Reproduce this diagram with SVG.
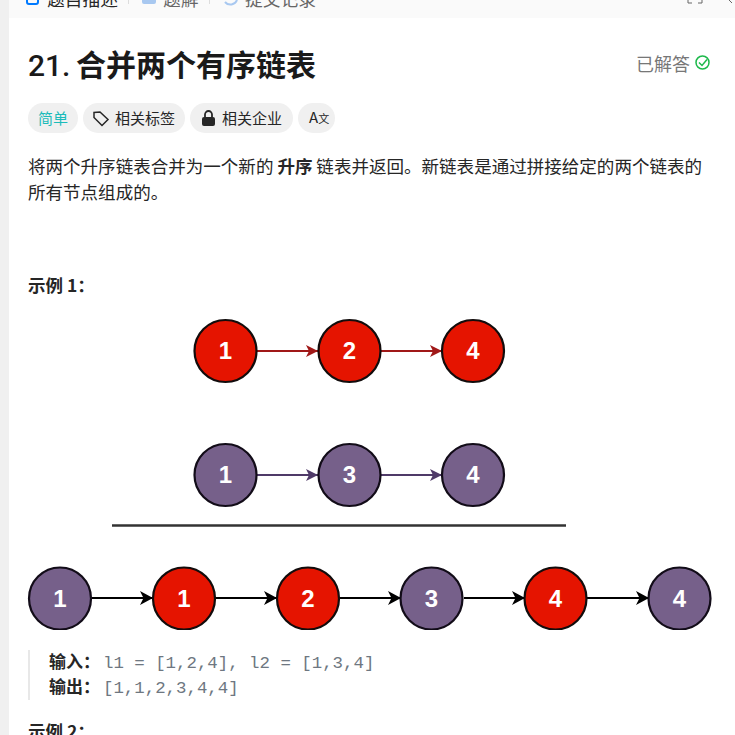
<svg xmlns="http://www.w3.org/2000/svg" width="735" height="735" viewBox="0 0 735 735">
<style>
.s{font-family:"Noto Sans CJK SC","Liberation Sans",sans-serif;fill:#262626}
.b{font-weight:700}
.n{font-family:"Liberation Sans",sans-serif;font-weight:700;font-size:24px;fill:#fff;text-anchor:middle}
.r{fill:#e51400;stroke:#120c0c;stroke-width:2.200}
.p{fill:#76608a;stroke:#120c18;stroke-width:2.200}
.cr{stroke:#a01818;stroke-width:2;fill:none;marker-end:url(#mr)}
.cp{stroke:#4f3a68;stroke-width:2;fill:none;marker-end:url(#mp)}
.ck{stroke:#000;stroke-width:2;fill:none;marker-end:url(#mk)}
.chip{fill:#f0f0f0}
.mono{font-family:"Liberation Mono",monospace;font-size:17.4px;fill:#6e7781}
</style>
<defs>
<marker id="mr" markerWidth="13" markerHeight="12" refX="12" refY="6" orient="auto" markerUnits="userSpaceOnUse"><path d="M0 0L12 6L0 12L3 6Z" fill="#a01818"/></marker>
<marker id="mp" markerWidth="13" markerHeight="12" refX="12" refY="6" orient="auto" markerUnits="userSpaceOnUse"><path d="M0 0L12 6L0 12L3 6Z" fill="#4f3a68"/></marker>
<marker id="mk" markerWidth="14" markerHeight="14" refX="13" refY="7" orient="auto" markerUnits="userSpaceOnUse"><path d="M0 0L13 7L0 14L3.500 7Z" fill="#000"/></marker>
</defs>
<rect width="735" height="735" fill="#fff"/>
<rect x="0" y="0" width="9" height="735" fill="#f0f0f0"/>
<rect x="9" y="0" width="726" height="18" fill="#fafafa"/>
<g id="tabs">
<rect x="27" y="-6" width="11" height="10" rx="2" fill="none" stroke="#007aff" stroke-width="2"/>
<text class="s" x="47" y="6" font-size="17.800">题目描述</text>
<rect x="128" y="-4" width="1" height="8" fill="#ddd"/>
<rect x="142" y="-5" width="14" height="9" rx="2" fill="#a8c8f0"/>
<text class="s" x="163" y="6" font-size="17.800" style="fill:#666">题解</text>
<rect x="209" y="-4" width="1" height="8" fill="#ddd"/>
<path d="M225 2a7 7 0 0 0 12-2" fill="none" stroke="#a8c8f0" stroke-width="2"/>
<text class="s" x="245" y="6" font-size="17.800" style="fill:#666">提交记录</text>
<path d="M688 0v3h4M702 0v3h-4" fill="none" stroke="#666" stroke-width="1"/>
<path d="M729 0l3 3" fill="none" stroke="#666" stroke-width="1"/>
</g>
<text id="title" class="s b" x="28" y="76" font-size="30" style="fill:#1a1a1a"><tspan font-family="Roboto" font-weight="500" font-size="30">21.</tspan><tspan x="76">合并两个有序链表</tspan></text>
<g id="solved">
<text class="s" x="636" y="71" font-size="18" style="fill:#777">已解答</text>
<circle cx="702.500" cy="62.500" r="6.500" fill="none" stroke="#1db94b" stroke-width="1.500"/>
<path d="M699 62.500l3 3 5-6" fill="none" stroke="#1db94b" stroke-width="1.500"/>
</g>
<g id="chips">
<rect class="chip" x="28" y="103" width="50" height="30" rx="15"/>
<text class="s" x="38" y="124" font-size="15" style="fill:#1cbbba">简单</text>
<rect class="chip" x="83" y="103" width="102" height="30" rx="15"/>
<path d="M94 112.500v5l8 8 6-6-8-7.500Z" fill="none" stroke="#262626" stroke-width="1.500"/>
<text class="s" x="115" y="124" font-size="15">相关标签</text>
<rect class="chip" x="190" y="103" width="103" height="30" rx="15"/>
<rect x="202" y="117" width="13" height="9" rx="2" fill="#262626"/>
<path d="M205 117v-2.500a3.500 3.500 0 0 1 7 0v2.500" fill="none" stroke="#262626" stroke-width="1.800"/>
<text class="s" x="222" y="124" font-size="15">相关企业</text>
<rect class="chip" x="298" y="103" width="37" height="30" rx="15"/>
<text class="s" x="309" y="123" font-size="15">A<tspan font-size="11">文</tspan></text>
</g>
<g id="desc">
<text class="s" x="28" y="173" font-size="17.550">将两个升序链表合并为一个新的 <tspan class="b">升序</tspan> 链表并返回。新链表是通过拼接给定的两个链表的</text>
<text class="s" x="28" y="199" font-size="17.550">所有节点组成的。</text>
<text class="s b" x="28" y="292" font-size="17.500">示例 1：</text>
</g>
<g id="connectors">
<path class="cr" d="M257 351H318"/><path class="cr" d="M381 351H442"/>
<path class="cp" d="M257 475H318"/><path class="cp" d="M381 475H442"/>
<path d="M112 525.500H566" stroke="#333" stroke-width="2.500"/>
<path class="ck" d="M92 598H153"/><path class="ck" d="M216 598H277"/><path class="ck" d="M340 598H401"/>
<path class="ck" d="M464 598H525"/><path class="ck" d="M587 598H649"/>
</g>
<g id="a1"><circle class="r" cx="225.500" cy="351" r="31"/><text class="n" x="225.500" y="359">1</text></g>
<g id="a2"><circle class="r" cx="349.500" cy="351" r="31"/><text class="n" x="349.500" y="359">2</text></g>
<g id="a3"><circle class="r" cx="473" cy="351" r="31"/><text class="n" x="473" y="359">4</text></g>
<g id="b1"><circle class="p" cx="225.500" cy="475" r="31"/><text class="n" x="225.500" y="483">1</text></g>
<g id="b2"><circle class="p" cx="349.500" cy="475" r="31"/><text class="n" x="349.500" y="483">3</text></g>
<g id="b3"><circle class="p" cx="473" cy="475" r="31"/><text class="n" x="473" y="483">4</text></g>
<g id="c1"><circle class="p" cx="60" cy="598.500" r="31"/><text class="n" x="60" y="607">1</text></g>
<g id="c2"><circle class="r" cx="184" cy="598.500" r="31"/><text class="n" x="184" y="607">1</text></g>
<g id="c3"><circle class="r" cx="308" cy="598.500" r="31"/><text class="n" x="308" y="607">2</text></g>
<g id="c4"><circle class="p" cx="431.500" cy="598.500" r="31"/><text class="n" x="431.500" y="607">3</text></g>
<g id="c5"><circle class="r" cx="555.500" cy="598.500" r="31"/><text class="n" x="555.500" y="607">4</text></g>
<g id="c6"><circle class="p" cx="679.500" cy="598.500" r="31"/><text class="n" x="679.500" y="607">4</text></g>
<rect x="9" y="630" width="726" height="8" fill="#fff"/>
<g id="example">
<rect x="28" y="650" width="2" height="50" fill="#e8e8e8"/>
<text class="s b" x="49" y="668" font-size="17">输入：</text>
<text class="mono" x="103" y="668" xml:space="preserve">l1 = [1,2,4], l2 = [1,3,4]</text>
<text class="s b" x="49" y="693" font-size="17">输出：</text>
<text class="mono" x="103" y="693">[1,1,2,3,4,4]</text>
<text class="s b" x="28" y="738" font-size="17.500">示例 2：</text>
</g>
</svg>
